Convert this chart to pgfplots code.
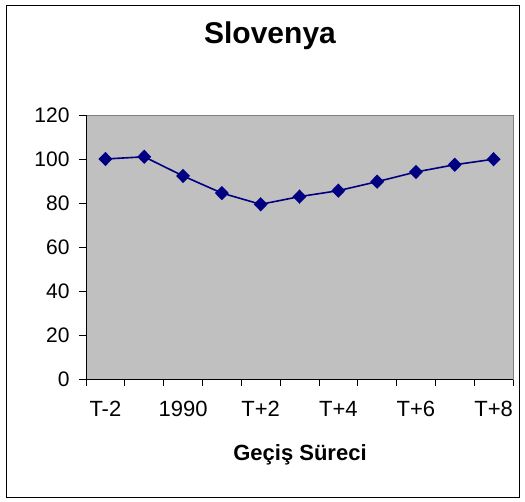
\documentclass[border=0pt]{standalone}
\usepackage{fontspec}
\setmainfont{Liberation Sans}
\usepackage{pgfplots}
\pgfplotsset{compat=1.18}
\definecolor{plotgray}{RGB}{192,192,192}
\definecolor{bordergray}{RGB}{128,128,128}
\definecolor{navyline}{RGB}{0,0,128}

\begin{document}
\begin{tikzpicture}[x=1pt,y=1pt]
\useasboundingbox (-86,-122) rectangle (439,379);
\draw[black, line width=0.8pt] (-80,-118) rectangle (433,374);
\begin{axis}[
  at={(0,0)}, anchor=south west,
  scale only axis,
  width=427pt, height=264pt,
  xmin=-0.5, xmax=10.5,
  ymin=0, ymax=120,
  xtick={0,2,...,10},
  xticklabels={T-2,1990,T+2,T+4,T+6,T+8},
  minor xtick={-0.5,0.5,...,10.5},
  ytick={0,20,...,120},
  major x tick style={draw=none},
  minor tick length=7pt,
  major tick length=7pt,
  tick align=outside,
  tick pos=left,
  tick style={black, line width=0.8pt},
  axis line style={draw=bordergray, line width=0.8pt},
  axis background/.style={fill=plotgray},
  xticklabel style={font=\fontsize{22}{25}\selectfont, yshift=-12pt},
  yticklabel style={font=\fontsize{21}{24}\selectfont, xshift=-6pt},
  /pgf/number format/assume math mode=true,
  clip=false,
]
\addplot[color=navyline, line width=1.6pt, mark=diamond*, mark size=6pt,
  mark options={fill=navyline, draw=navyline, xscale=1.3}] coordinates {
  (0,100) (1,101) (2,92.3) (3,84.5) (4,79.4) (5,82.9)
  (6,85.6) (7,89.7) (8,94.1) (9,97.4) (10,99.9)
};
\draw[black, line width=0.8pt] (rel axis cs:0,0) -- (rel axis cs:0,1);
\draw[black, line width=0.8pt] (rel axis cs:0,0) -- (rel axis cs:1,0);
\end{axis}
\node[font=\bfseries\fontsize{30}{34}\selectfont] at (184,343) {Slovenya};
\node[font=\bfseries\fontsize{22}{26}\selectfont] at (214,-76) {Geçiş Süreci};
\end{tikzpicture}
\end{document}
